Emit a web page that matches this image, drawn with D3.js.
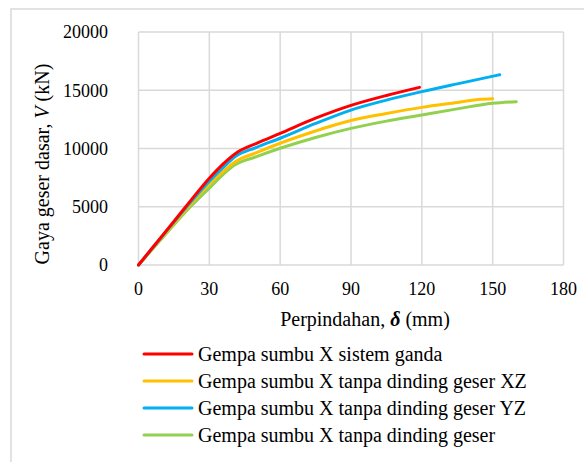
<!DOCTYPE html>
<html>
<head>
<meta charset="utf-8">
<script src="https://cdn.jsdelivr.net/npm/d3@7"></script>
<style>
  body { margin: 0; background: #fff; }
</style>
</head>
<body>
<script>
// ----- data -----
const xTicks = [0, 30, 60, 90, 120, 150, 180];
const yTicks = [0, 5000, 10000, 15000, 20000];

const seriesNames = [
    "Gempa sumbu X sistem ganda",
    "Gempa sumbu X tanpa dinding geser XZ",
    "Gempa sumbu X tanpa dinding geser YZ",
    "Gempa sumbu X tanpa dinding geser"
];
const seriesColors = ["#ff0000", "#ffc000", "#00b0f0", "#92d050"];

// displacement (mm) and base shear (kN)
const ganda = [[0,0],[10,2500],[20,5000],[30,7450],[36,8700],[42,9700],[50,10450],[60,11300],[75,12600],[90,13700],[105,14550],[119,15250]];
const tanpaXZ = [[0,0],[10,2350],[20,4750],[30,6950],[36,8050],[41,8870],[50,9650],[60,10450],[75,11500],[82,11950],[90,12400],[105,13000],[120,13530],[135,13950],[145,14230],[150,14280]];
const tanpaYZ = [[0,0],[10,2450],[20,4900],[30,7200],[36,8400],[41,9300],[50,10100],[60,10880],[75,12150],[90,13300],[105,14150],[120,14880],[135,15550],[153,16330]];
const tanpaDinding = [[0,0],[10,2300],[20,4580],[30,6600],[36,7800],[40,8500],[50,9300],[60,10020],[75,10950],[90,11730],[105,12350],[120,12880],[135,13400],[150,13880],[160,14020]];

const seriesData = [ganda, tanpaXZ, tanpaYZ, tanpaDinding];

// ----- layout -----
const width = 584, height = 462;
const plotLeft = 138.5, plotRight = 563.5, plotTop = 32, plotBottom = 265;
const serif = "'Liberation Serif', 'DejaVu Serif', serif";

const svg = d3.select("body").append("svg")
    .attr("width", width)
    .attr("height", height)
    .style("font-family", serif);

// outer chart border (only top and left visible)
svg.append("rect")
    .attr("x", 11).attr("y", 9)
    .attr("width", 600).attr("height", 500)
    .attr("fill", "none")
    .attr("stroke", "#d9d9d9")
    .attr("stroke-width", 1.5);

const x = d3.scaleLinear().domain([0, 180]).range([plotLeft, plotRight]);
const y = d3.scaleLinear().domain([0, 20000]).range([plotBottom, plotTop]);

// gridlines
svg.append("g")
    .selectAll("line")
    .data(xTicks)
    .enter().append("line")
    .attr("x1", d => x(d)).attr("x2", d => x(d))
    .attr("y1", plotTop).attr("y2", plotBottom)
    .attr("stroke", "#d9d9d9").attr("stroke-width", 1.5);

svg.append("g")
    .selectAll("line")
    .data(yTicks)
    .enter().append("line")
    .attr("x1", plotLeft).attr("x2", plotRight)
    .attr("y1", d => y(d)).attr("y2", d => y(d))
    .attr("stroke", "#d9d9d9").attr("stroke-width", 1.5);

// tick labels
svg.append("g")
    .selectAll("text")
    .data(yTicks)
    .enter().append("text")
    .attr("x", 108)
    .attr("y", d => y(d))
    .attr("dy", "0.35em")
    .attr("text-anchor", "end")
    .attr("font-size", 18)
    .text(d => d);

svg.append("g")
    .selectAll("text")
    .data(xTicks)
    .enter().append("text")
    .attr("x", d => x(d))
    .attr("y", 295)
    .attr("text-anchor", "middle")
    .attr("font-size", 18)
    .text(d => d);

// axis titles
const xTitle = svg.append("text")
    .attr("x", 365)
    .attr("y", 326)
    .attr("text-anchor", "middle")
    .attr("font-size", 20);
xTitle.append("tspan").text("Perpindahan, ");
xTitle.append("tspan").attr("font-style", "italic").attr("font-weight", "bold").text("δ");
xTitle.append("tspan").text(" (mm)");

const yTitle = svg.append("text")
    .attr("transform", "translate(49,164) rotate(-90)")
    .attr("text-anchor", "middle")
    .attr("font-size", 20);
yTitle.append("tspan").text("Gaya geser dasar, ");
yTitle.append("tspan").attr("font-style", "italic").text("V");
yTitle.append("tspan").text(" (kN)");

// series lines
const line = d3.line()
    .x(d => x(d[0]))
    .y(d => y(d[1]))
    .curve(d3.curveMonotoneX);

// draw green first so red sits on top like the reference
const drawOrder = [3, 1, 2, 0];
svg.append("g")
    .selectAll("path")
    .data(drawOrder)
    .enter().append("path")
    .attr("d", i => line(seriesData[i]))
    .attr("fill", "none")
    .attr("stroke", i => seriesColors[i])
    .attr("stroke-width", 3)
    .attr("stroke-linecap", "round")
    .attr("stroke-linejoin", "round");

// legend
const legend = svg.append("g")
    .selectAll("g")
    .data(seriesNames)
    .enter().append("g")
    .attr("transform", (d, i) => "translate(0," + (354 + i * 27) + ")");

legend.append("line")
    .attr("x1", 144).attr("x2", 192)
    .attr("y1", 0).attr("y2", 0)
    .attr("stroke", (d, i) => seriesColors[i])
    .attr("stroke-width", 3)
    .attr("stroke-linecap", "round");

legend.append("text")
    .attr("x", 198)
    .attr("y", 0)
    .attr("dy", "0.35em")
    .attr("font-size", 20)
    .text(d => d);
</script>
</body>
</html>
